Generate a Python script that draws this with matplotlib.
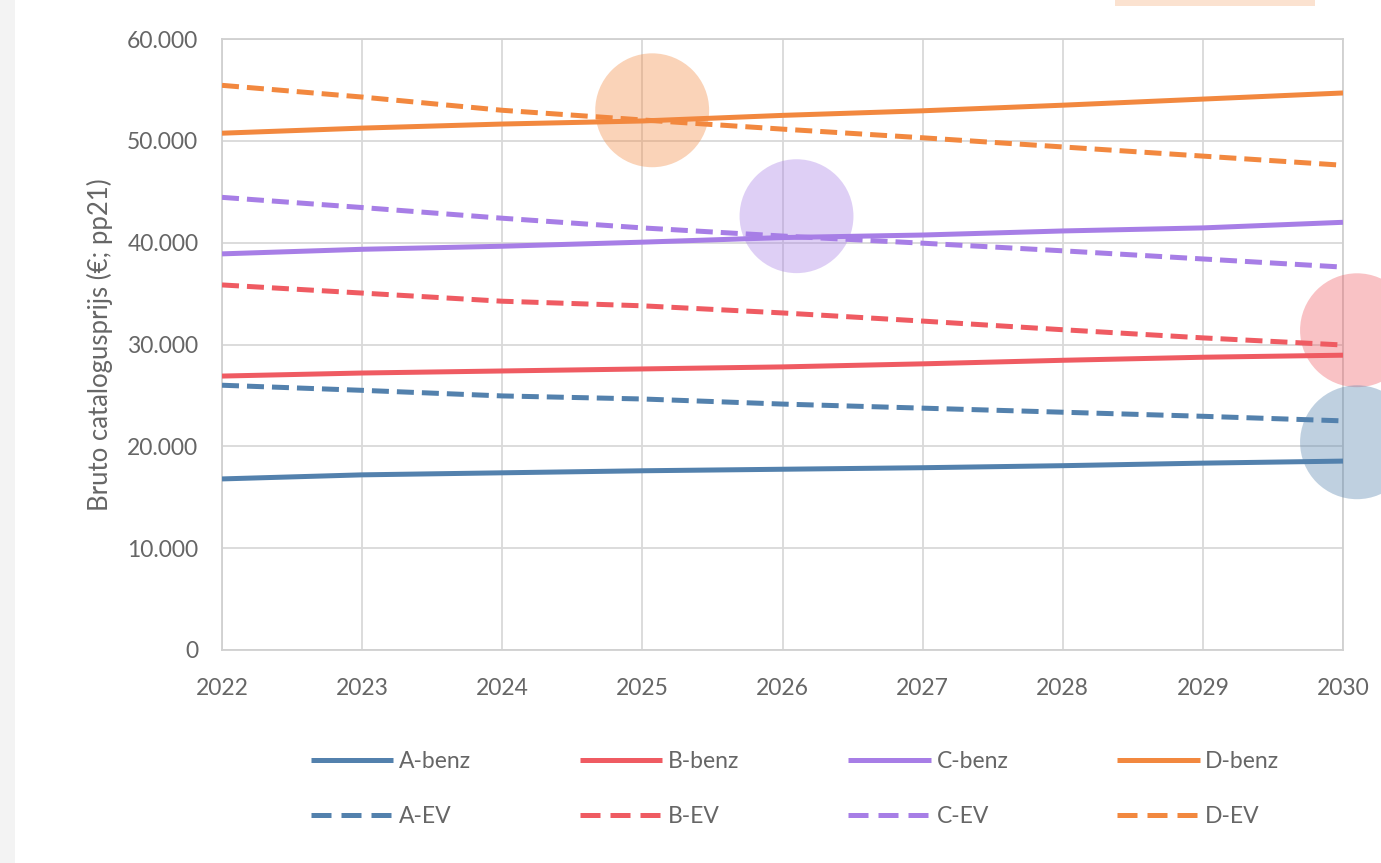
import matplotlib
matplotlib.use("Agg")
import matplotlib.pyplot as plt
from matplotlib.lines import Line2D
from matplotlib.patches import Rectangle

years = [2022, 2023, 2024, 2025, 2026, 2027, 2028, 2029, 2030]

a_benz = [16800, 17200, 17400, 17600, 17750, 17900, 18100, 18350, 18550]
b_benz = [26900, 27200, 27400, 27600, 27800, 28100, 28450, 28750, 28950]
c_benz = [38900, 39350, 39650, 40050, 40500, 40750, 41150, 41450, 42000]
d_benz = [50750, 51250, 51650, 51950, 52500, 52950, 53500, 54100, 54700]

a_ev = [26000, 25500, 24950, 24650, 24150, 23750, 23350, 22950, 22500]
b_ev = [35850, 35050, 34250, 33800, 33100, 32300, 31450, 30650, 29950]
c_ev = [44450, 43450, 42400, 41450, 40650, 39950, 39200, 38400, 37600]
d_ev = [55450, 54300, 53000, 52050, 51150, 50300, 49400, 48500, 47600]

labels_benz = ["A-benz", "B-benz", "C-benz", "D-benz"]
labels_ev = ["A-EV", "B-EV", "C-EV", "D-EV"]
colors = ["#5381ad", "#ef5b62", "#a77ee6", "#f2883f"]

# highlight blobs (x in years, y in EUR)
highlight_x = [2025.07, 2026.1, 2030.1, 2030.1]
highlight_y = [53000, 42600, 31400, 20400]
highlight_c = ["#f2883f", "#a77ee6", "#ef5b62", "#5381ad"]

yticks = [0, 10000, 20000, 30000, 40000, 50000, 60000]
ytick_labels = ["0", "10.000", "20.000", "30.000", "40.000", "50.000", "60.000"]

font = "Lato"
txt = "#666666"
fs = 16.5

fig = plt.figure(figsize=(13.81, 8.63), dpi=100)
fig.patch.set_facecolor("white")
fig.patches.append(Rectangle((0, 0), 15 / 1381, 1, transform=fig.transFigure,
                             facecolor="#f3f3f3", edgecolor="none", zorder=0))
fig.patches.append(Rectangle((1115 / 1381, 1 - 6 / 863), 200 / 1381, 6 / 863,
                             transform=fig.transFigure, facecolor="#fbe2d0",
                             edgecolor="none", zorder=0))

ax = fig.add_axes([222 / 1381, 1 - 650 / 863, (1343 - 222) / 1381, (650 - 39) / 863])
ax.set_xlim(2022, 2030)
ax.set_ylim(0, 60000)

benz = [a_benz, b_benz, c_benz, d_benz]
ev = [a_ev, b_ev, c_ev, d_ev]
lw = 3.6
for vals, lab, col in zip(benz, labels_benz, colors):
    ax.plot(years, vals, color=col, lw=lw, solid_capstyle="butt", label=lab, zorder=3)
for vals, lab, col in zip(ev, labels_ev, colors):
    ax.plot(years, vals, color=col, lw=lw, dashes=(3.4, 1.6), dash_capstyle="butt",
            label=lab, zorder=3)

ax.scatter(highlight_x, highlight_y, s=(82) ** 2, c=highlight_c, alpha=0.37,
           edgecolors="none", zorder=4, clip_on=False)

ax.set_xticks(years)
ax.set_xticklabels([str(y) for y in years], fontfamily=font, fontsize=fs, color=txt)
ax.set_yticks(yticks)
ax.set_yticklabels(ytick_labels, fontfamily=font, fontsize=fs, color=txt)
ax.tick_params(axis="y", length=0, pad=17)
ax.tick_params(axis="x", length=0, pad=20)
ax.grid(True, color="#d9d9d9", lw=1.3, zorder=0)
for s in ax.spines.values():
    s.set_color("#d0d0d0")
    s.set_linewidth(1.3)
ax.set_ylabel("Bruto catalogusprijs (€; pp21)", fontfamily=font, fontsize=18.5,
              color=txt, labelpad=10)

handles = []
for i in range(4):
    handles.append(Line2D([], [], color=colors[i], lw=lw, solid_capstyle="butt"))
    handles.append(Line2D([], [], color=colors[i], lw=lw, dashes=(4.0, 2.0),
                          dash_capstyle="butt"))
labs = []
for i in range(4):
    labs.append(labels_benz[i])
    labs.append(labels_ev[i])
leg = fig.legend(handles, labs, ncol=4, loc="center", bbox_to_anchor=(795 / 1381, 1 - 789 / 863),
                 frameon=False, handlelength=3.6, handletextpad=0.25, columnspacing=4.75,
                 labelspacing=1.45, prop={"family": font, "size": fs})
for t in leg.get_texts():
    t.set_color(txt)

fig.savefig("out.png", dpi=100, facecolor="white")
